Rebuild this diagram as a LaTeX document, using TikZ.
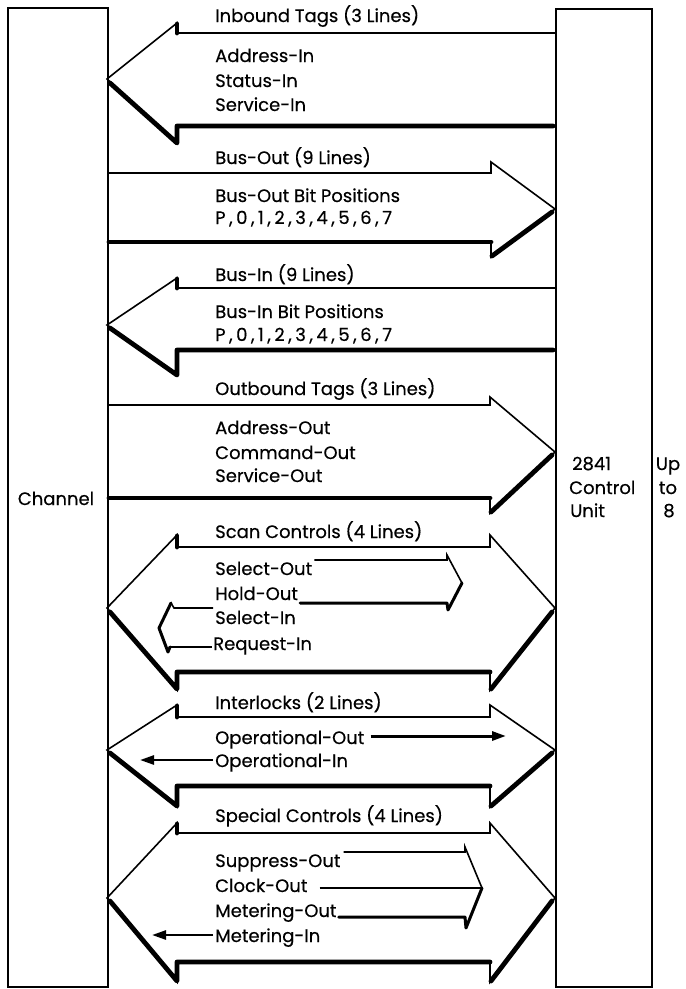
\documentclass[tikz,border=0pt]{standalone}
\usepackage{fontspec}
\setmainfont{Poppins}[FakeBold=0.4]
\usetikzlibrary{arrows.meta}
\newcommand{\cm}{\hspace{3.5pt},\hspace{3.5pt}}
\begin{document}
\begin{tikzpicture}[x=1pt,y=-1pt,
  outl/.style={line width=1.6pt, line join=miter},
  shadow/.style={line width=4.8pt, line cap=round, line join=round},
  medln/.style={line width=3pt, line cap=round, line join=round},
  box/.style={draw, line width=1.6pt, inner sep=0pt, anchor=north west},
  lbl/.style={anchor=base west, inner sep=0pt, font=\fontsize{18}{18}\selectfont},
  cl/.style={anchor=base, inner sep=0pt, font=\fontsize{18}{18}\selectfont},
  tri/.style={-{Triangle[length=14pt,width=9pt]}}]
\useasboundingbox (0,0) rectangle (686,989);
% boxes
\node[box, minimum width=100pt, minimum height=979pt] (channel) at (7,7) {};
\node[box, minimum width=96pt, minimum height=978pt] (cu) at (555,8) {};
\node[cl] (chl) at (56,505) {Channel};
\node[lbl] (n2841) at (572,470) {2841};
\node[lbl] (ncontrol) at (569,494) {Control};
\node[lbl] (nunit) at (570,517) {Unit};
\node[cl] (nup) at (668,470) {Up};
\node[cl] (nto) at (668,494) {to};
\node[cl] (n8) at (669,517) {8};

% ---------- Inbound tags (left)
\draw[outl] (555,33) -- (177,33) -- (177,23) -- (107,79) -- (177,143) -- (177,126) -- (555,126);
\draw[shadow] (553,126) -- (177,126) -- (177,143) -- (110,83);
\draw[shadow] (177,24) -- (177,33);
\node[lbl] (it) at (215,22) {Inbound Tags (3 Lines)};
\node[lbl] (ai) at (215,62) {Address-In};
\node[lbl] (sti) at (215,87) {Status-In};
\node[lbl] (svi) at (215,111) {Service-In};

% ---------- Bus-Out (right)
\draw[outl] (107,173) -- (491,173) -- (491,162) -- (555,209) -- (491,257) -- (491,242) -- (107,242);
\draw[shadow] (109,242) -- (491,242);
\draw[shadow] (492,256) -- (552,212);
\node[lbl] (bo) at (215,164) {Bus-Out (9 Lines)};
\node[lbl] (bop) at (215,202) {Bus-Out Bit Positions};
\node[lbl] (bon) at (215,224) {P\cm0\cm1\cm2\cm3\cm4\cm5\cm6\cm7};

% ---------- Bus-In (left)
\draw[outl] (555,288) -- (177,288) -- (177,278) -- (107,325) -- (177,375) -- (177,350) -- (555,350);
\draw[shadow] (553,350) -- (177,350) -- (177,375) -- (110,328);
\draw[shadow] (177,279) -- (177,288);
\node[lbl] (bi) at (215,281) {Bus-In (9 Lines)};
\node[lbl] (bip) at (215,318) {Bus-In Bit Positions};
\node[lbl] (bin) at (215,341) {P\cm0\cm1\cm2\cm3\cm4\cm5\cm6\cm7};

% ---------- Outbound tags (right)
\draw[outl] (107,405) -- (490,405) -- (490,397) -- (555,452) -- (490,513) -- (490,498) -- (107,498);
\draw[shadow] (109,498) -- (490,498);
\draw[shadow] (491,512) -- (552,455);
\node[lbl] (ot) at (215,395) {Outbound Tags (3 Lines)};
\node[lbl] (ao) at (215,434) {Address-Out};
\node[lbl] (cmo) at (215,459) {Command-Out};
\node[lbl] (svo) at (215,482) {Service-Out};

% ---------- Scan controls (both)
\draw[outl] (177,547) -- (490,547) -- (490,535) -- (555,608) -- (490,690) -- (490,672) -- (177,672) -- (177,690) -- (107,608) -- (177,535) -- cycle;
\draw[shadow] (177,536) -- (177,547);
\draw[shadow] (490,672) -- (177,672) -- (177,689) -- (110,612);
\draw[shadow] (491,689) -- (552,612);
\node[lbl] (sc) at (215,538) {Scan Controls (4 Lines)};
\node[lbl] (so) at (215,575) {Select-Out};
\node[lbl] (ho) at (215,600) {Hold-Out};
\node[lbl] (si) at (215,624) {Select-In};
\node[lbl] (ri) at (213,650) {Request-In};
% inner right arrow
\draw[outl] ([xshift=2pt]so.east |- 0,560) -- (447,560) -- (447,555) -- (462,583);
\draw[medln] (462,583) -- (448,610) -- (447,603) -- ([xshift=2pt]ho.east |- 0,603);
% inner left arrow
\draw[outl] ([xshift=-2pt]si.west |- 0,608) -- (174,608) -- (171,603);
\draw[medln] (171,603) -- (159,628) -- (168,652) -- (170,647);
\draw[line width=2pt] (170,647) -- ([xshift=-1pt]ri.west |- 0,647);

% ---------- Interlocks (both)
\draw[outl] (177,717) -- (490,717) -- (490,705) -- (555,750) -- (490,807) -- (490,786) -- (177,786) -- (177,807) -- (107,750) -- (177,705) -- cycle;
\draw[shadow] (177,706) -- (177,717);
\draw[shadow] (490,786) -- (177,786) -- (177,806) -- (110,753);
\draw[shadow] (491,806) -- (552,753);
\node[lbl] (il) at (215,709) {Interlocks (2 Lines)};
\node[lbl] (oo) at (215,744) {Operational-Out};
\node[lbl] (oi) at (215,767) {Operational-In};
\draw[tri, line width=3pt] ([xshift=6pt]oo.east |- 0,736) -- (506,736);
\draw[tri, line width=2.6pt] ([xshift=-2pt]oi.west |- 0,760) -- (140,760);

% ---------- Special controls (both)
\draw[outl] (177,833) -- (490,833) -- (490,823) -- (555,898) -- (490,982) -- (490,962) -- (177,962) -- (177,982) -- (107,898) -- (177,823) -- cycle;
\draw[shadow] (177,824) -- (177,833);
\draw[shadow] (490,962) -- (177,962) -- (177,981) -- (110,901);
\draw[shadow] (491,981) -- (552,901);
\node[lbl] (spc) at (215,822) {Special Controls (4 Lines)};
\node[lbl] (sp) at (215,867) {Suppress-Out};
\node[lbl] (co) at (215,892) {Clock-Out};
\node[lbl] (mo) at (215,917) {Metering-Out};
\node[lbl] (mi) at (215,942) {Metering-In};
\draw[outl] ([xshift=3pt]sp.east |- 0,852) -- (465,852) -- (465,847) -- (482,888);
\draw[outl] ([xshift=12pt]co.east |- 0,888) -- (482,888);
\draw[medln] (482,888) -- (466,928) -- (465,917) -- ([xshift=2pt]mo.east |- 0,917);
\draw[tri, line width=2.6pt] ([xshift=-2pt]mi.west |- 0,935) -- (152,935);
\end{tikzpicture}
\end{document}
